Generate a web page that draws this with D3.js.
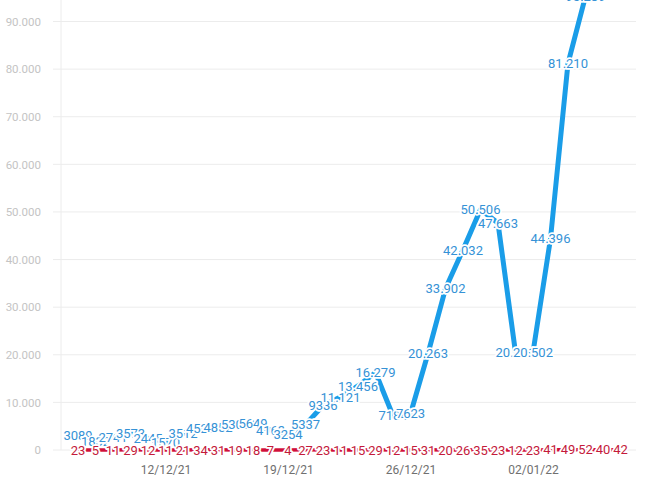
<!DOCTYPE html>
<html>
<head>
<meta charset="utf-8">
<script src="https://cdn.jsdelivr.net/npm/d3@7"></script>
<style>
    body { margin: 0; background: #fff; }
    text { font-family: Roboto, "Noto Sans", sans-serif; }
</style>
</head>
<body>
<script>
const dates = [
    '07/12/21', '08/12/21', '09/12/21', '10/12/21', '11/12/21', '12/12/21', '13/12/21',
    '14/12/21', '15/12/21', '16/12/21', '17/12/21', '18/12/21', '19/12/21', '20/12/21',
    '21/12/21', '22/12/21', '23/12/21', '24/12/21', '25/12/21', '26/12/21', '27/12/21',
    '28/12/21', '29/12/21', '30/12/21', '31/12/21', '01/01/22', '02/01/22', '03/01/22',
    '04/01/22', '05/01/22', '06/01/22', '07/01/22'
];

const casos = [
    3089, 1832, 2741, 3573, 2445, 1570, 3512, 4520, 4852, 5306, 5649, 4163, 3254, 5337,
    9336, 11121, 13456, 16279, 7184, 7623, 20263, 33902, 42032, 50506, 47663, 20441,
    20502, 44396, 81210, 95289, 118000, 131000
];

const fallecidos = [
    23, 5, 11, 29, 12, 11, 21, 34, 31, 19, 18, 7, 4, 27, 23, 11,
    15, 29, 12, 15, 31, 20, 26, 35, 23, 12, 23, 41, 49, 52, 40, 42
];

const yTicks = [0, 10000, 20000, 30000, 40000, 50000, 60000, 70000, 80000, 90000];

const width = 650, height = 487;
const parse = d3.timeParse('%d/%m/%y');
const es = d3.formatLocale({decimal: ',', thousands: '.', grouping: [3], currency: ['', '€']});
const fmt = v => v >= 10000 ? es.format(',d')(v) : String(v);

const svg = d3.select('body').append('svg')
    .attr('width', width)
    .attr('height', height);

const x = d3.scaleTime()
    .domain([parse(dates[0]), parse(dates[dates.length - 1])])
    .range([78, 620.5]);

const y = d3.scaleLinear()
    .domain([0, 90000])
    .range([450, 21.5]);

// rejilla horizontal
svg.append('g').selectAll('line')
    .data(yTicks)
    .enter().append('line')
    .attr('x1', 53).attr('x2', 636)
    .attr('y1', d => y(d)).attr('y2', d => y(d))
    .attr('stroke', '#ececec')
    .attr('stroke-width', 1);

svg.append('line')
    .attr('x1', 61).attr('x2', 61)
    .attr('y1', 0).attr('y2', y(0))
    .attr('stroke', '#ececec');

const yAxis = svg.append('g')
    .attr('transform', 'translate(41,0)')
    .call(d3.axisLeft(y).tickValues(yTicks).tickFormat(fmt).tickSize(0).tickPadding(0));
yAxis.select('.domain').remove();
yAxis.selectAll('text')
    .attr('fill', '#c4c4c4')
    .style('font-size', '11.5px');

const xAxis = svg.append('g')
    .attr('transform', `translate(0,${y(0) + 12})`)
    .call(d3.axisBottom(x).ticks(d3.timeWeek.every(1)).tickFormat(d3.timeFormat('%d/%m/%y')).tickSize(0));
xAxis.select('.domain').remove();
xAxis.selectAll('text')
    .attr('fill', '#707070')
    .style('font-size', '12px');

const series = [
    {name: 'casos', values: casos, line: '#1a9de8', label: '#3592d6', width: 5},
    {name: 'fallecidos', values: fallecidos, line: '#d0103a', label: '#c41a3b', width: 3.5}
];

const line = d3.line()
    .x(d => x(parse(d.date)))
    .y(d => y(d.value));

series.forEach(s => {
    s.points = s.values.map((v, i) => ({date: dates[i], value: v}));
    svg.append('path')
        .datum(s.points)
        .attr('fill', 'none')
        .attr('stroke', s.line)
        .attr('stroke-width', s.width)
        .attr('stroke-linejoin', 'round')
        .attr('d', line);
});

// etiquetas encima, con halo blanco
series.forEach(s => {
    svg.append('g').selectAll('text')
        .data(s.points.filter(d => y(d.value) > -20))
        .enter().append('text')
        .attr('x', d => x(parse(d.date)))
        .attr('y', d => y(d.value))
        .attr('text-anchor', 'middle')
        .attr('dy', '0.36em')
        .attr('fill', s.label)
        .attr('stroke', '#fff')
        .attr('stroke-width', 3.5)
        .attr('stroke-linejoin', 'round')
        .attr('paint-order', 'stroke')
        .style('font-size', '13px')
        .text(d => fmt(d.value));
});
</script>
</body>
</html>
